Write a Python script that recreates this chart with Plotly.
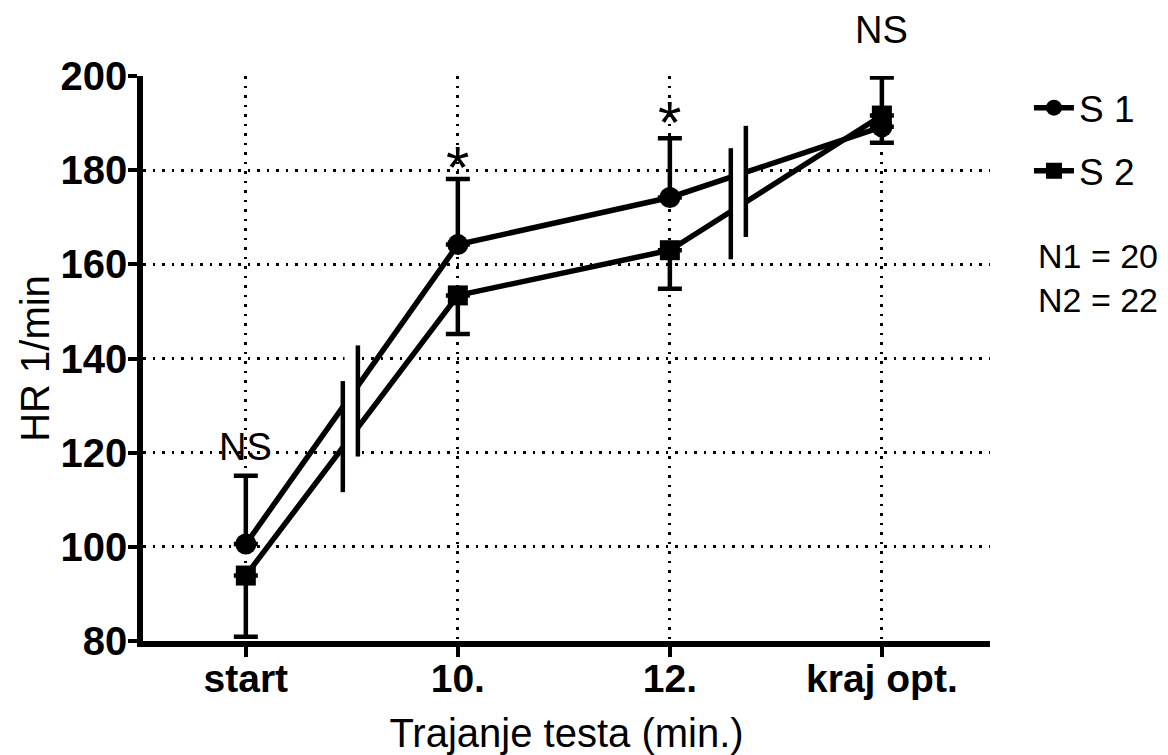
import plotly.graph_objects as go

# ---- data ----
categories = ["start", "10.", "12.", "kraj opt."]
s1_mean = [100.6, 164.2, 174.2, 189.2]
s1_sd_up = [14.5, 13.9, 12.6, 10.5]
s2_mean = [93.9, 153.4, 163.0, 191.6]
s2_sd_down = [13.0, 8.2, 8.2, 5.8]
y_ticks = [80, 100, 120, 140, 160, 180, 200]
sig_labels = ["NS", "*", "*", "NS"]
n_text = "N1 = 20<br>N2 = 22"

# styling / decoration parameters
sig_shift = [6, -24, -20, 24]        # px lift of each significance label
break_centres = [0.493, 2.323]      # axis-break positions (category units)
break_gap = 0.071
break_half_len = 11.8

FONT = "Arial, Liberation Sans, sans-serif"

fig = go.Figure()

fig.add_trace(go.Scatter(
    x=categories, y=s1_mean, name="S 1", mode="lines+markers",
    line=dict(color="black", width=5.5),
    marker=dict(symbol="circle", size=21, color="black"),
    error_y=dict(type="data", symmetric=False, array=s1_sd_up,
                 arrayminus=[0] * len(s1_mean), color="black",
                 thickness=4.5, width=12),
    legendgroup="a", cliponaxis=False,
))
fig.add_trace(go.Scatter(
    x=categories, y=s2_mean, name="S 2", mode="lines+markers",
    line=dict(color="black", width=5.5),
    marker=dict(symbol="square", size=20, color="black"),
    error_y=dict(type="data", symmetric=False, array=[0] * len(s2_mean),
                 arrayminus=s2_sd_down, color="black",
                 thickness=4.5, width=12),
    legendgroup="b", cliponaxis=False,
))


def interp(series, xpos):
    i = int(xpos)
    f = xpos - i
    return series[i] + (series[i + 1] - series[i]) * f


shapes = []
for bc in break_centres:
    xl = bc - break_gap / 2
    xr = bc + break_gap / 2
    cl = (interp(s1_mean, xl) + interp(s2_mean, xl)) / 2 - 2.0
    cr = (interp(s1_mean, xr) + interp(s2_mean, xr)) / 2 + 1.2
    shapes.append(dict(type="rect", xref="x", yref="y",
                       x0=xl + 0.008, x1=xr - 0.008,
                       y0=cl - break_half_len, y1=cr + break_half_len,
                       fillcolor="white", line=dict(width=0), layer="above"))
    for xx, cc in ((xl, cl), (xr, cr)):
        shapes.append(dict(type="line", xref="x", yref="y",
                           x0=xx, x1=xx, y0=cc - break_half_len,
                           y1=cc + break_half_len,
                           line=dict(color="black", width=4.5), layer="above"))

annotations = []
for i, lab in enumerate(sig_labels):
    top = s1_mean[i] + s1_sd_up[i]
    is_star = lab == "*"
    annotations.append(dict(
        x=i, y=top, xref="x", yref="y", text=lab,
        showarrow=False, yanchor="bottom", yshift=sig_shift[i],
        font=dict(family=FONT, size=(60 if is_star else 38), color="black"),
    ))
annotations.append(dict(
    x=1.0, y=0.642, xref="paper", yref="paper", text=n_text,
    showarrow=False, xanchor="left", yanchor="middle", xshift=46,
    align="left", font=dict(family=FONT, size=34, color="black"),
))

fig.update_layout(
    width=1160, height=747,
    margin=dict(l=135, r=178, t=68, b=114),
    paper_bgcolor="white", plot_bgcolor="white",
    font=dict(family=FONT, color="black"),
    showlegend=True,
    legend=dict(x=1.046, y=0.998, xanchor="left", yanchor="top",
                font=dict(family=FONT, size=37, color="black"),
                itemwidth=40, tracegroupgap=12, bgcolor="rgba(0,0,0,0)"),
    shapes=shapes,
    annotations=annotations,
)

fig.update_xaxes(
    type="category", categoryorder="array", categoryarray=categories,
    range=[-0.485, 3.51], automargin=False,
    showline=True, linecolor="black", linewidth=5.5,
    ticks="outside", ticklen=10, tickwidth=4, tickcolor="black",
    ticklabelstandoff=-12,
    tickfont=dict(family=FONT, size=39, color="black", weight="bold"),
    showgrid=True, gridcolor="black", gridwidth=2.5, griddash="2.5px,7px",
    zeroline=False,
    title=dict(text="Trajanje testa (min.)",
               font=dict(family=FONT, size=40, color="black"), standoff=26),
)
fig.update_yaxes(
    range=[80, 200], tickvals=y_ticks, automargin=False,
    showline=True, linecolor="black", linewidth=5.5,
    ticks="outside", ticklen=9, tickwidth=4, tickcolor="black",
    ticklabelstandoff=-7,
    tickfont=dict(family=FONT, size=40, color="black", weight="bold"),
    showgrid=True, gridcolor="black", gridwidth=2.5, griddash="2.5px,7px",
    zeroline=False,
    title=dict(text="HR 1/min",
               font=dict(family=FONT, size=40, color="black"), standoff=1),
)

fig.write_html("out.html")
